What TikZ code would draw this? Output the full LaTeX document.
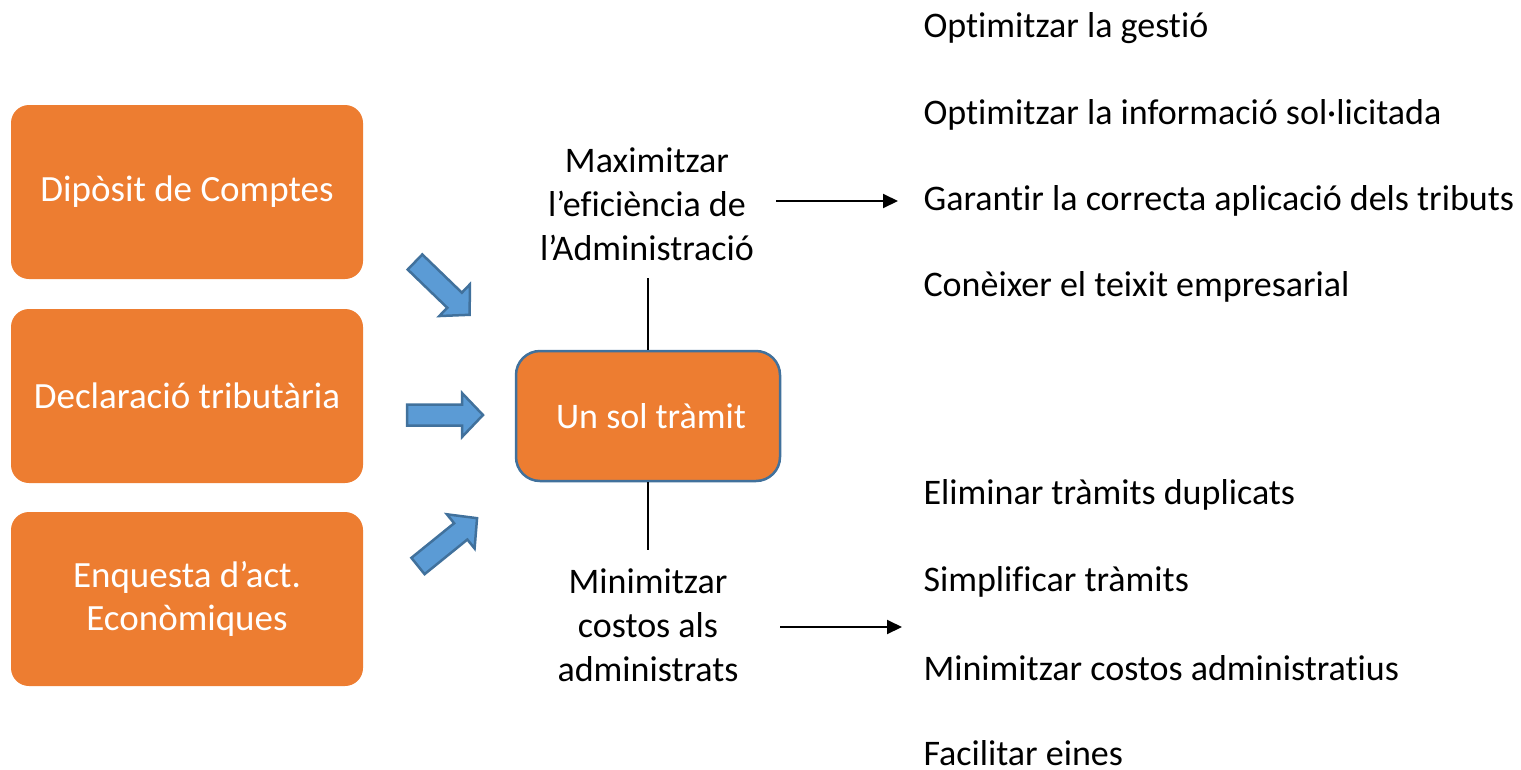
\documentclass[tikz,border=0pt]{standalone}
\usepackage{fontspec}
\setmainfont{Carlito}[Ligatures=NoCommon]
\usetikzlibrary{arrows.meta}
\definecolor{orng}{HTML}{ED7D31}
\definecolor{bluef}{HTML}{5B9BD5}
\definecolor{blued}{HTML}{41719C}
\begin{document}
\begin{tikzpicture}[x=1pt,y=-1pt,
  every node/.style={font=\fontsize{36}{44}\selectfont},
  srcbox/.style={rectangle, rounded corners=18pt, fill=orng, text=white, minimum width=352pt, minimum height=174pt, align=center, font=\fontsize{37}{43}\selectfont},
  midbox/.style={rectangle, rounded corners=24pt, fill=orng, draw=blued, line width=2.5pt, text=white, minimum width=264pt, minimum height=130pt},
  lbl/.style={align=center},
  item/.style={anchor=west, inner ysep=0pt},
  conn/.style={line width=2pt},
  arr/.style={line width=2pt, -{Triangle[length=15pt,width=14pt]}},
  blockarr/.style={fill=bluef, draw=blued, line width=2.5pt, line join=miter}
]
\useasboundingbox (0,0) rectangle (1521,769);
\node[srcbox] (b1) at (187,192) {Dipòsit de Comptes};
\node[srcbox] (b2) at (187,396) {Declaració tributària};
\node[srcbox] (b3) at (187,599) {Enquesta d’act.\\Econòmiques};
\node[midbox] (c) at (648,416) {\hspace*{6pt}Un sol tràmit};
\node[lbl] (top) at (647,204) {Maximitzar\\l’eficiència de\\l’Administració};
\node[lbl] (bot) at (648,625) {Minimitzar\\costos als\\administrats};
\coordinate (t1) at (648,278);
\coordinate (t2) at (648,550);
\draw[conn] (t1) -- (c.north);
\draw[conn] (c.south) -- (t2);
\node[item] (r1) at (920,28) {Optimitzar la gestió};
\node[item] (r2) at (920,115) {Optimitzar la informació sol·licitada};
\node[item] (r3) at (920,201) {Garantir la correcta aplicació dels tributs};
\node[item] (r4) at (920,287) {Conèixer el teixit empresarial};
\node[item] (r5) at (920,495) {Eliminar tràmits duplicats};
\node[item] (r6) at (920,582) {Simplificar tràmits};
\node[item] (r7) at (920,668) {Minimitzar costos administratius};
\node[item] (r8) at (920,753) {Facilitar eines};
\coordinate (a1s) at (776,201);
\coordinate (a1e) at (898,201);
\coordinate (a2s) at (780,627);
\coordinate (a2e) at (902,627);
\draw[arr] (a1s) -- (a1e);
\draw[arr] (a2s) -- (a2e);
% block arrows
\foreach \px/\py/\ang in {415/262/-44, 407/415/0, 418/566/39}{
  \begin{scope}[shift={(\px,\py)}, rotate=\ang]
    \draw[blockarr] (0,-10.5) -- (55,-10.5) -- (55,-22) -- (76,0) -- (55,22) -- (55,10.5) -- (0,10.5) -- cycle;
  \end{scope}
}
\end{tikzpicture}
\end{document}
